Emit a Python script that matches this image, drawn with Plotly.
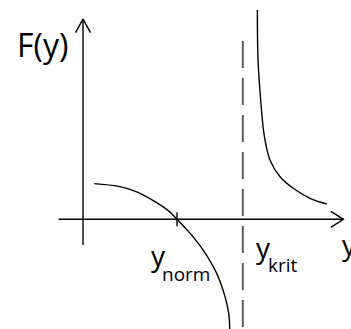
import plotly.graph_objects as go

# --- schematic quantities (axis units) ---
y_norm = 1.00
y_krit = 1.70

# F(y) below the critical value: falls through zero at y_norm, dives toward y_krit
left_y = [0.12, 0.38, 0.55, 0.73, 0.91, 1.00, 1.14, 1.28, 1.42, 1.51, 1.55, 1.562]
left_F = [0.38, 0.35, 0.30, 0.21, 0.09, 0.00, -0.15, -0.33, -0.57, -0.82, -1.00, -1.20]

# F(y) above the critical value: comes down from +infinity and levels off
right_y = [1.855, 1.862, 1.890, 1.920, 1.936, 1.989, 2.096, 2.237, 2.415, 2.593]
right_F = [2.227, 1.695, 1.269, 0.950, 0.844, 0.631, 0.453, 0.330, 0.223, 0.163]

# axis extents
h_axis = [-0.26, 2.77]
v_axis = [-0.274, 2.13]
dash_top = 1.897

# labels
label_F = "F(y)"
label_y = "y"
sub_norm = "norm"
sub_krit = "krit"

# --- layout geometry ---
W, H = 351, 329
PX = 94.0                     # pixels per axis unit (same on both axes)
x0_px, y0_px = 83.0, 219.3    # origin position in the window
x_range = [-x0_px / PX, (W - x0_px) / PX]
y_range = [(y0_px - H) / PX, y0_px / PX]

FONT = "Open Sans, Segoe UI, sans-serif"
INK = "black"

fig = go.Figure()

def seg(xs, ys, width=1.4, color=INK, dash="solid", shape="linear"):
    fig.add_trace(go.Scatter(
        x=xs, y=ys, mode="lines", hoverinfo="skip", cliponaxis=False,
        line=dict(color=color, width=width, dash=dash, shape=shape)))

# coordinate axes
seg(h_axis, [0, 0])
seg([0, 0], v_axis)

# open arrowheads
ax_l, ax_w = 12.5 / PX, 8.0 / PX
seg([h_axis[1] - ax_l, h_axis[1], h_axis[1] - ax_l], [ax_w, 0, -ax_w])
ay_l, ay_w = 13.5 / PX, 7.5 / PX
seg([-ay_w, 0, ay_w], [v_axis[1] - ay_l, v_axis[1], v_axis[1] - ay_l])

# tick mark at y_norm
tk = 7.0 / PX
seg([y_norm, y_norm], [-tk, tk])

# asymptote at y_krit
seg([y_krit, y_krit], [dash_top, y_range[0] - 0.05], width=2.0,
    color="#5c5c5c", dash="27px,10px")

# the two branches of F(y)
seg(left_y, left_F, width=1.4, shape="spline")
seg(right_y, right_F, width=1.4, shape="spline")

def px2x(p):
    return (p - x0_px) / PX

def px2y(p):
    return (y0_px - p) / PX

def label(text, px, py, size):
    fig.add_annotation(x=px2x(px), y=px2y(py), text=text, showarrow=False,
                       xanchor="center", yanchor="middle",
                       font=dict(family=FONT, size=size, color=INK))

label(label_F, 42.5, 44, 32)
label(label_y, 158.3, 254.5, 28)
label(sub_norm, 185.5, 273.5, 19)
label(label_y, 263.5, 246.5, 28)
label(sub_krit, 283, 265, 19)
label(label_y, 349.5, 243.7, 28)

fig.update_layout(
    width=W, height=H, autosize=False,
    margin=dict(l=0, r=0, t=0, b=0),
    paper_bgcolor="white", plot_bgcolor="white",
    showlegend=False,
    xaxis=dict(range=x_range, visible=False, fixedrange=True),
    yaxis=dict(range=y_range, visible=False, fixedrange=True),
)

fig.write_html("out.html", config=dict(displayModeBar=False))
